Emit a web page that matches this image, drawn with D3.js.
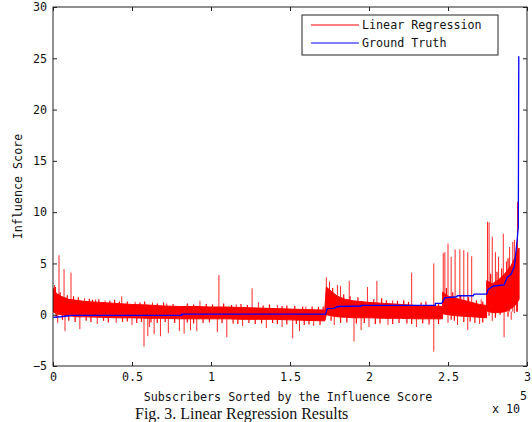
<!DOCTYPE html>
<html>
<head>
<meta charset="utf-8">
<script src="https://cdn.jsdelivr.net/npm/d3@7"></script>
<style>
  body { margin: 0; background: #fff; }
  svg text { font-family: "DejaVu Sans Mono", monospace; }
</style>
</head>
<body>
<div id="chart"></div>
<script>
// x values are in units of 10^5 subscribers
const xTicks = [0, 0.5, 1, 1.5, 2, 2.5, 3];
const xTickLabels = ["0", "0.5", "1", "1.5", "2", "2.5", "3"];
const yTicks = [-5, 0, 5, 10, 15, 20, 25, 30];

// dense body of the red (regression) trace: upper / lower edge
const bandX    = [0, 0.02, 0.05, 0.1, 0.15, 0.2, 0.3, 0.4, 0.5, 0.6, 0.7, 0.8, 0.9, 1.0, 1.1, 1.2, 1.3, 1.4, 1.5, 1.6, 1.72, 1.73, 1.76, 1.8, 1.85, 1.9, 2.0, 2.1, 2.2, 2.3, 2.4, 2.465, 2.466, 2.5, 2.55, 2.6, 2.65, 2.7, 2.744, 2.745, 2.78, 2.82, 2.86, 2.9, 2.93, 2.95];
const bandHigh = [2.6, 2.1, 1.8, 1.5, 1.4, 1.3, 1.2, 1.1, 1.0, 0.95, 0.85, 0.8, 0.8, 0.75, 0.75, 0.7, 0.65, 0.6, 0.55, 0.5, 0.45, 2.7, 2.3, 1.8, 1.5, 1.35, 1.2, 1.1, 1.0, 0.9, 0.85, 0.8, 2.2, 1.8, 1.6, 1.4, 1.2, 1.0, 0.9, 3.3, 3.0, 3.4, 4.0, 4.8, 5.8, 6.5];
const bandLow  = [0.3, 0.1, 0.0, -0.1, -0.2, -0.2, -0.25, -0.3, -0.3, -0.35, -0.35, -0.4, -0.4, -0.4, -0.4, -0.45, -0.45, -0.45, -0.5, -0.55, -0.6, 0.0, -0.1, -0.2, -0.25, -0.3, -0.3, -0.35, -0.35, -0.4, -0.4, -0.4, 0.1, 0.0, -0.1, -0.15, -0.2, -0.25, -0.3, 0.4, 0.2, 0.2, 0.3, 0.6, 1.0, 1.5];

// single outliers of the red trace
const upX = [0.01, 0.038, 0.07, 0.114, 0.2, 0.27, 0.33, 0.435, 0.52, 0.63, 0.72, 0.93, 1.05, 1.16, 1.26, 1.3, 1.42, 1.6, 1.73, 1.75, 1.8, 1.82, 1.875, 1.99, 2.05, 2.15, 2.27, 2.41, 2.47, 2.48, 2.5, 2.52, 2.545, 2.575, 2.6, 2.625, 2.65, 2.71, 2.75, 2.76, 2.78, 2.8, 2.82, 2.85, 2.87, 2.89, 2.91, 2.92, 2.94];
const upY = [2.9, 5.8, 4.45, 4.1, 1.6, 1.5, 1.4, 1.8, 1.25, 1.2, 1.1, 1.35, 3.87, 1.0, 2.57, 1.2, 0.95, 0.8, 3.65, 3.2, 2.9, 2.8, 3.3, 2.7, 3.3, 1.4, 4.1, 5.0, 6.0, 6.1, 6.95, 5.65, 6.37, 6.37, 6.3, 6.1, 5.7, 1.5, 9.06, 9.0, 7.6, 6.1, 5.65, 7.9, 5.2, 6.6, 7.1, 7.3, 11.0];
const downX = [0.03, 0.076, 0.17, 0.28, 0.4, 0.5, 0.576, 0.6, 0.61, 0.64, 0.68, 0.73, 0.8, 0.83, 0.87, 0.91, 1.04, 1.1, 1.2, 1.35, 1.45, 1.517, 1.56, 1.65, 1.78, 1.905, 1.95, 2.0, 2.12, 2.3, 2.41, 2.5, 2.56, 2.625, 2.7, 2.78, 2.855, 2.9];
const downY = [-0.8, -1.6, -1.4, -0.9, -0.8, -1.0, -3.1, -2.1, -1.2, -1.9, -2.1, -1.8, -1.6, -1.85, -1.5, -1.6, -1.7, -2.2, -1.1, -1.3, -1.2, -2.3, -1.6, -1.1, -1.0, -2.6, -1.5, -1.2, -1.0, -1.2, -3.6, -0.8, -1.0, -1.5, -0.9, -0.6, -2.2, -0.5];

// small excursions that make the ragged edges of the band
const fuzzUpX = [0.015, 0.045, 0.09, 0.13, 0.16, 0.23, 0.25, 0.29, 0.36, 0.39, 0.42, 0.47, 0.55, 0.58, 0.66, 0.7, 0.76, 0.85, 0.89, 0.97, 1.01, 1.08, 1.13, 1.19, 1.23, 1.33, 1.37, 1.45, 1.48, 1.53, 1.58, 1.64, 1.68, 1.71, 1.77, 1.84, 1.88, 1.93, 2.03, 2.08, 2.11, 2.18, 2.22, 2.25, 2.33, 2.36, 2.44, 2.49, 2.53, 2.58, 2.63, 2.68, 2.72, 2.77, 2.81, 2.84, 2.88, 2.935];
const fuzzUpY = [2.7, 2.2, 1.9, 1.8, 1.7, 1.55, 1.45, 1.5, 1.35, 1.45, 1.3, 1.3, 1.2, 1.3, 1.1, 1.2, 1.05, 1.1, 1.0, 1.05, 1.0, 1.1, 0.95, 1.05, 0.95, 0.9, 1.0, 0.85, 0.9, 0.85, 0.8, 0.8, 0.75, 0.8, 2.6, 2.0, 1.8, 1.7, 1.5, 1.6, 1.4, 1.35, 1.4, 1.25, 1.2, 1.3, 1.1, 2.6, 2.2, 1.9, 1.7, 1.4, 1.3, 4.0, 4.2, 4.5, 5.5, 6.8];
const fuzzDownX = [0.02, 0.06, 0.1, 0.14, 0.21, 0.24, 0.32, 0.35, 0.44, 0.47, 0.53, 0.56, 0.62, 0.66, 0.71, 0.77, 0.85, 0.89, 0.95, 0.99, 1.07, 1.14, 1.17, 1.24, 1.28, 1.32, 1.39, 1.42, 1.48, 1.54, 1.59, 1.62, 1.69, 1.76, 1.82, 1.86, 1.92, 1.97, 2.04, 2.07, 2.15, 2.19, 2.24, 2.27, 2.34, 2.38, 2.44, 2.52, 2.54, 2.6, 2.64, 2.67, 2.72, 2.76, 2.8, 2.83, 2.88, 2.92];
const fuzzDownY = [-0.3, -0.5, -0.6, -0.7, -0.6, -0.7, -0.6, -0.75, -0.7, -0.65, -0.8, -0.7, -0.75, -0.8, -0.7, -0.8, -0.75, -0.85, -0.8, -0.75, -0.8, -0.85, -0.9, -0.8, -0.9, -0.85, -0.8, -0.9, -0.95, -0.9, -1.0, -0.95, -1.0, -0.6, -0.8, -0.75, -0.85, -0.8, -0.9, -0.85, -0.9, -0.8, -0.85, -0.9, -0.85, -0.95, -0.9, -0.5, -0.6, -0.7, -0.65, -0.8, -0.75, -0.1, -0.3, 0.0, -0.2, 0.2];

// ground truth (blue)
const truthX = [0, 0.05, 0.1, 0.12, 0.815, 0.815, 1.725, 1.735, 1.78, 1.8, 1.95, 1.95, 2.42, 2.42, 2.46, 2.48, 2.555, 2.56, 2.66, 2.665, 2.745, 2.755, 2.79, 2.855, 2.875, 2.9, 2.92, 2.935, 2.945, 2.948];
const truthY = [-0.25, -0.2, -0.1, -0.07, -0.07, 0.05, 0.05, 0.6, 0.62, 0.8, 0.85, 0.92, 0.92, 1.1, 1.1, 1.65, 1.75, 1.85, 1.85, 2.0, 2.0, 2.5, 2.8, 2.9, 3.65, 3.97, 4.67, 6.9, 8.5, 25.2];

const seriesNames = ["Linear Regression", "Ground Truth"];
const seriesColors = ["#ff0000", "#0000ff"];

const width = 532, height = 422;
const m = {left: 53, right: 527, top: 7, bottom: 366};

const svg = d3.select("#chart").append("svg")
    .attr("width", width)
    .attr("height", height);

const x = d3.scaleLinear().domain([0, 3]).range([m.left, m.right]);
const y = d3.scaleLinear().domain([-5, 30]).range([m.bottom, m.top]);

svg.append("clipPath").attr("id", "clip")
  .append("rect")
    .attr("x", m.left).attr("y", m.top)
    .attr("width", m.right - m.left).attr("height", m.bottom - m.top);

const plot = svg.append("g").attr("clip-path", "url(#clip)");

// red band
const band = bandX.map((v, i) => ({x: v, hi: bandHigh[i], lo: bandLow[i]}));
plot.append("path")
    .datum(band)
    .attr("fill", seriesColors[0])
    .attr("stroke", seriesColors[0])
    .attr("stroke-width", 1)
    .attr("d", d3.area()
        .x(d => x(d.x))
        .y0(d => y(d.lo))
        .y1(d => y(d.hi)));

// red outliers and ragged edges, all drawn as vertical strokes from inside the band
const spikeBase = 0.3;
const toPts = (xs, ys) => xs.map((v, i) => ({x: v, y: ys[i]}));
const spikes = toPts(upX, upY).concat(toPts(downX, downY));
const fuzz = toPts(fuzzUpX, fuzzUpY).concat(toPts(fuzzDownX, fuzzDownY));

plot.selectAll("line.fuzz")
    .data(fuzz)
    .enter().append("line")
    .attr("class", "fuzz")
    .attr("x1", d => x(d.x)).attr("x2", d => x(d.x))
    .attr("y1", y(spikeBase)).attr("y2", d => y(d.y))
    .attr("stroke", seriesColors[0])
    .attr("stroke-width", 1.2);

plot.selectAll("line.spike")
    .data(spikes)
    .enter().append("line")
    .attr("class", "spike")
    .attr("x1", d => x(d.x)).attr("x2", d => x(d.x))
    .attr("y1", y(spikeBase)).attr("y2", d => y(d.y))
    .attr("stroke", seriesColors[0])
    .attr("stroke-opacity", 0.85)
    .attr("stroke-width", 1);

// blue ground truth
plot.append("path")
    .datum(truthX.map((v, i) => [v, truthY[i]]))
    .attr("fill", "none")
    .attr("stroke", seriesColors[1])
    .attr("stroke-width", 1.3)
    .attr("d", d3.line().x(d => x(d[0])).y(d => y(d[1])));

// axes (inward ticks on all four sides)
const axisColor = "#222";
const xAxis = svg.append("g")
    .attr("transform", `translate(0,${m.bottom})`)
    .call(d3.axisBottom(x).tickValues(xTicks)
        .tickFormat((d, i) => xTickLabels[i])
        .tickSizeInner(-4).tickSizeOuter(0).tickPadding(7));
const yAxis = svg.append("g")
    .attr("transform", `translate(${m.left},0)`)
    .call(d3.axisLeft(y).tickValues(yTicks)
        .tickSizeInner(-4).tickSizeOuter(0).tickPadding(6));
const xTop = svg.append("g")
    .attr("transform", `translate(0,${m.top})`)
    .call(d3.axisTop(x).tickValues(xTicks).tickFormat("")
        .tickSizeInner(-4).tickSizeOuter(0));
const yRight = svg.append("g")
    .attr("transform", `translate(${m.right},0)`)
    .call(d3.axisRight(y).tickValues(yTicks).tickFormat("")
        .tickSizeInner(-4).tickSizeOuter(0));

[xAxis, yAxis, xTop, yRight].forEach(g => {
  g.select(".domain").remove();
  g.selectAll("line").attr("stroke", axisColor);
  g.selectAll("text")
    .attr("fill", "#111")
    .style("font-family", "'DejaVu Sans Mono', monospace")
    .style("font-size", "11.7px");
});

svg.append("rect")
    .attr("x", m.left).attr("y", m.top)
    .attr("width", m.right - m.left).attr("height", m.bottom - m.top)
    .attr("fill", "none")
    .attr("stroke", axisColor)
    .attr("stroke-width", 1);

// axis labels
svg.append("text")
    .attr("x", (m.left + m.right) / 2 - 2)
    .attr("y", 401)
    .attr("text-anchor", "middle")
    .style("font-size", "11.7px")
    .attr("fill", "#111")
    .text("Subscribers Sorted by the Influence Score");

svg.append("text")
    .attr("transform", `translate(22,${(m.top + m.bottom) / 2}) rotate(-90)`)
    .attr("text-anchor", "middle")
    .style("font-size", "11.7px")
    .attr("fill", "#111")
    .text("Influence Score");

svg.append("text")
    .attr("x", 520).attr("y", 400)
    .style("font-size", "11.7px")
    .attr("fill", "#111")
    .text("5");
svg.append("text")
    .attr("x", 492).attr("y", 413)
    .style("font-size", "11.7px")
    .attr("fill", "#111")
    .text("x 10");

// legend
const legend = svg.append("g").attr("transform", "translate(302,15)");
legend.append("rect")
    .attr("width", 196).attr("height", 40)
    .attr("fill", "#fff")
    .attr("stroke", axisColor);
seriesNames.forEach((name, i) => {
  const ly = 10 + i * 18;
  legend.append("line")
      .attr("x1", 9).attr("x2", 57)
      .attr("y1", ly).attr("y2", ly)
      .attr("stroke", seriesColors[i])
      .attr("stroke-width", 1);
  legend.append("text")
      .attr("x", 60).attr("y", ly + 4)
      .style("font-size", "11.7px")
      .attr("fill", "#111")
      .text(name);
});

// figure caption below the plot
svg.append("text")
    .attr("x", 135).attr("y", 419)
    .style("font-family", "'Liberation Serif', 'Times New Roman', serif")
    .style("font-size", "16px")
    .attr("fill", "#111")
    .text("Fig. 3. Linear Regression Results");
</script>
</body>
</html>
